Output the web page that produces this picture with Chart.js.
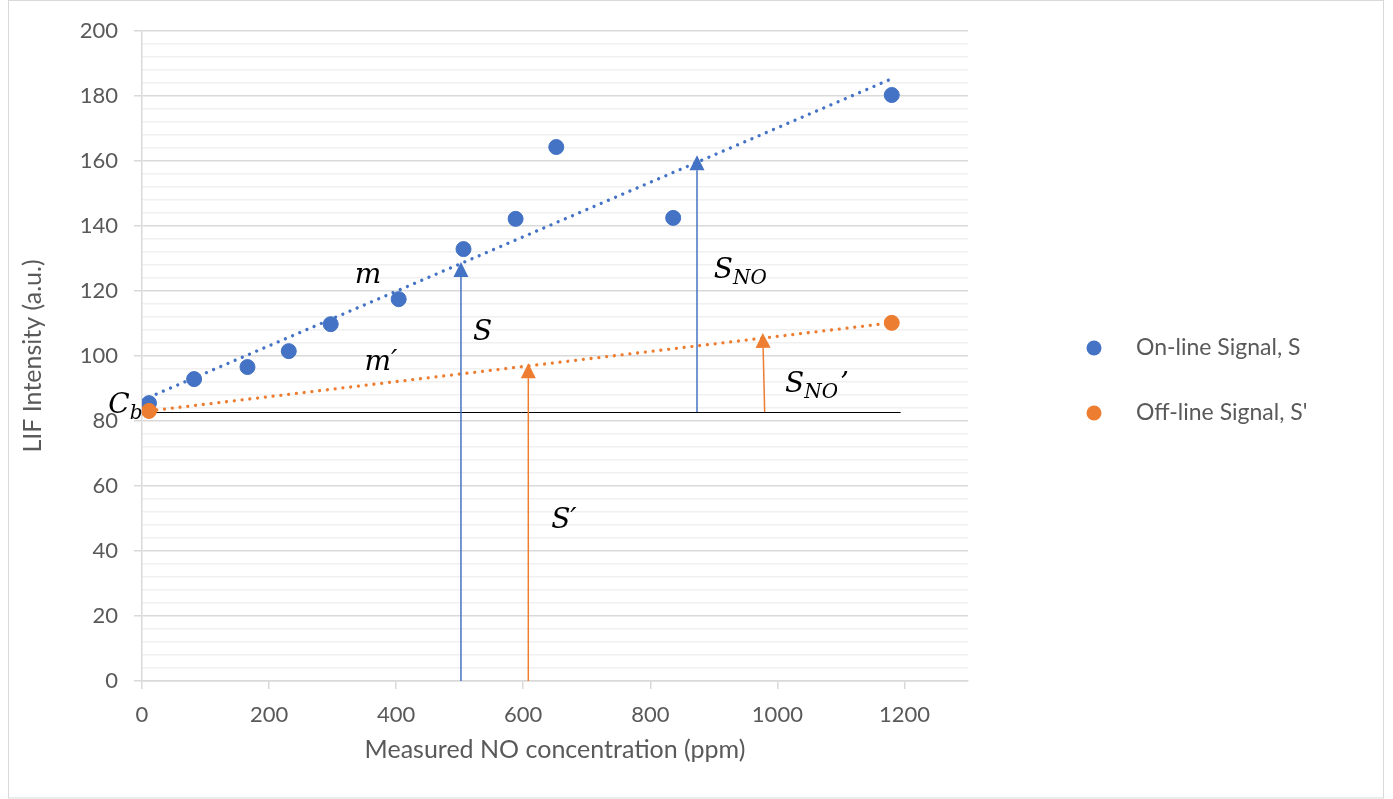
<!DOCTYPE html>
<html><head><meta charset="utf-8">
<script src="https://cdn.jsdelivr.net/npm/chart.js@4.4.0/dist/chart.umd.min.js"></script>
<style>html,body{margin:0;padding:0;background:#fff}canvas{display:block}</style>
</head><body>
<canvas id="c" width="1393" height="799"></canvas>
<script>
// ---- data ----
const onlineX  = [11, 82, 166, 231, 297, 404, 506, 588, 652, 836, 1180];
const onlineY  = [85.5, 92.9, 96.6, 101.5, 109.8, 117.5, 132.9, 142.2, 164.3, 142.5, 180.3];
const offlineX = [11, 1180];
const offlineY = [83.1, 110.2];
const onlineTrendX  = [11, 1180];
const onlineTrendY  = [87.3, 185.3];
const offlineTrendX = [11, 1180];
const offlineTrendY = [83.1, 110.2];
const xTickValues = [0, 200, 400, 600, 800, 1000, 1200];
const yTickValues = [0, 20, 40, 60, 80, 100, 120, 140, 160, 180, 200];
const seriesNames = ['On-line Signal, S', "Off-line Signal, S'"];
const BLUE = '#4472C4', ORANGE = '#ED7D31';

// annotation geometry in data units
const baseLine = {y: 82.8, x0: 0, x1: 1194};
const arrows = [
  {x0: 502, y0: 0,    x1: 502, y1: 128.9, c: BLUE},
  {x0: 873.5, y0: 82.8, x1: 873.5, y1: 161.8, c: BLUE},
  {x0: 608, y0: 0,    x1: 608, y1: 97.8, c: ORANGE},
  {x0: 980, y0: 82.8, x1: 977, y1: 107.1, c: ORANGE}
];
const mathLabels = [
  {x: 335, y: 122.5, t: 'm'},
  {x: 350, y: 95.7, t: 'm\u2032'},
  {x: 521, y: 104.9, t: 'S'},
  {x: 644, y: 47.1, t: 'S\u2032'},
  {x: 900, y: 124, t: 'S', sub: 'NO'},
  {x: 1012, y: 88.9, t: 'S', sub: 'NO', after: '\u2019'},
  {x: -53, y: 82.5, t: 'C', sub: 'b'}
];

const toPts = (xs, ys) => xs.map((x, i) => ({x, y: ys[i]}));
const TICK_FONT = {family: 'Lato', size: 22};
const GREY = '#595959';

const overlay = {
  id: 'overlay',
  beforeDraw(chart) {
    const ctx = chart.ctx;
    ctx.save();
    ctx.fillStyle = '#fff';
    ctx.fillRect(0, 0, chart.width, chart.height);
    ctx.strokeStyle = '#d9d9d9';
    ctx.lineWidth = 1;
    ctx.strokeRect(8.5, 0.5, 1375, 797.5);
    ctx.restore();
  },
  beforeDatasetsDraw(chart) {
    const {ctx, scales: {x, y}} = chart;
    ctx.save();
    ctx.strokeStyle = '#000';
    ctx.lineWidth = 1;
    const py = Math.round(y.getPixelForValue(baseLine.y)) + 0.5;
    ctx.beginPath();
    ctx.moveTo(x.getPixelForValue(baseLine.x0), py);
    ctx.lineTo(x.getPixelForValue(baseLine.x1), py);
    ctx.stroke();
    ctx.restore();
  },
  afterDatasetsDraw(chart) {
    const {ctx, scales: {x, y}} = chart;
    ctx.save();
    arrows.forEach(a => {
      const X0 = x.getPixelForValue(a.x0), Y0 = y.getPixelForValue(a.y0);
      const X1 = x.getPixelForValue(a.x1), Y1 = y.getPixelForValue(a.y1);
      const ang = Math.atan2(Y1 - Y0, X1 - X0);
      const L = 15, W = 7.5;
      const bx = X1 - L * Math.cos(ang), by = Y1 - L * Math.sin(ang);
      ctx.strokeStyle = a.c; ctx.fillStyle = a.c; ctx.lineWidth = 1.5;
      ctx.beginPath(); ctx.moveTo(X0, Y0); ctx.lineTo(bx, by); ctx.stroke();
      ctx.beginPath();
      ctx.moveTo(X1, Y1);
      ctx.lineTo(bx + W * Math.sin(ang), by - W * Math.cos(ang));
      ctx.lineTo(bx - W * Math.sin(ang), by + W * Math.cos(ang));
      ctx.closePath(); ctx.fill();
    });
    ctx.fillStyle = '#000';
    ctx.textBaseline = 'alphabetic';
    ctx.textAlign = 'left';
    mathLabels.forEach(l => {
      let px = x.getPixelForValue(l.x), py = y.getPixelForValue(l.y);
      ctx.font = 'italic 28px "DejaVu Serif"';
      ctx.fillText(l.t, px, py);
      px += ctx.measureText(l.t).width;
      if (l.sub) {
        ctx.font = 'italic 20px "DejaVu Serif"';
        ctx.fillText(l.sub, px, py + 6);
        px += ctx.measureText(l.sub).width;
      }
      if (l.after) {
        ctx.font = 'italic 28px "DejaVu Serif"';
        ctx.fillText(l.after, px + 2, py);
      }
    });
    ctx.restore();
  },
  afterDraw(chart) {
    const ctx = chart.ctx;
    ctx.save();
    const items = [{name: seriesNames[0], c: BLUE, y: 348}, {name: seriesNames[1], c: ORANGE, y: 413}];
    items.forEach(it => {
      ctx.fillStyle = it.c;
      ctx.beginPath(); ctx.arc(1094, it.y, 7.5, 0, Math.PI * 2); ctx.fill();
      ctx.fillStyle = GREY;
      ctx.font = '23px Lato';
      ctx.textBaseline = 'middle';
      ctx.fillText(it.name, 1136, it.y);
    });
    ctx.restore();
  }
};

new Chart(document.getElementById('c'), {
  type: 'scatter',
  data: {
    datasets: [
      {label: seriesNames[1], data: toPts(offlineX, offlineY), backgroundColor: ORANGE, borderColor: ORANGE,
       pointRadius: 7.5, pointHoverRadius: 7.5, showLine: false, order: 0},
      {label: seriesNames[0], data: toPts(onlineX, onlineY), backgroundColor: BLUE, borderColor: BLUE,
       pointRadius: 7.5, pointHoverRadius: 7.5, showLine: false, order: 1},
      {label: 'trend S', data: toPts(onlineTrendX, onlineTrendY), showLine: true, borderColor: BLUE,
       borderWidth: 3.3, borderDash: [0.01, 7.8], borderCapStyle: 'round', pointRadius: 0, order: 2},
      {label: "trend S'", data: toPts(offlineTrendX, offlineTrendY), showLine: true, borderColor: ORANGE,
       borderWidth: 3.3, borderDash: [0.01, 7.8], borderCapStyle: 'round', pointRadius: 0, order: 2}
    ]
  },
  options: {
    responsive: false,
    animation: false,
    events: [],
    layout: {padding: {top: 31, left: 0, right: 425, bottom: 0}},
    plugins: {legend: {display: false}, tooltip: {enabled: false}},
    scales: {
      x: {
        type: 'linear', min: 0, max: 1300,
        afterBuildTicks(scale) { scale.ticks = xTickValues.map(v => ({value: v})); },
        afterFit(scale) { scale.height = 118; },
        ticks: {font: TICK_FONT, color: GREY, padding: 13, maxRotation: 0, autoSkip: false,
                callback: v => String(v)},
        grid: {drawOnChartArea: false, drawTicks: true, tickLength: 8, color: '#d9d9d9', lineWidth: 1.5},
        border: {color: '#d9d9d9', width: 1.5},
        title: {display: true, text: 'Measured NO concentration (ppm)', font: {family: 'Lato', size: 25},
                color: GREY, padding: {top: 0, bottom: 34}}
      },
      y: {
        type: 'linear', min: 0, max: 200,
        afterBuildTicks(scale) {
          const t = [];
          for (let v = 0; v <= 200; v += 4) t.push({value: v});
          scale.ticks = t;
        },
        afterFit(scale) { scale.width = 142; },
        ticks: {font: TICK_FONT, color: GREY, padding: 16, autoSkip: false,
                callback: v => yTickValues.includes(v) ? String(v) : ''},
        grid: {
          color: c => (c.tick && c.tick.value % 20 === 0) ? '#d9d9d9' : '#f0f0f0',
          tickColor: c => (c.tick && c.tick.value % 20 === 0) ? '#d9d9d9' : 'rgba(0,0,0,0)',
          lineWidth: 1.5, tickLength: 8
        },
        border: {color: '#d9d9d9', width: 1.5},
        title: {display: true, text: 'LIF Intensity (a.u.)', font: {family: 'Lato', size: 25},
                color: GREY, padding: {top: 18, bottom: 0}}
      }
    }
  },
  plugins: [overlay]
});
</script>
</body></html>
